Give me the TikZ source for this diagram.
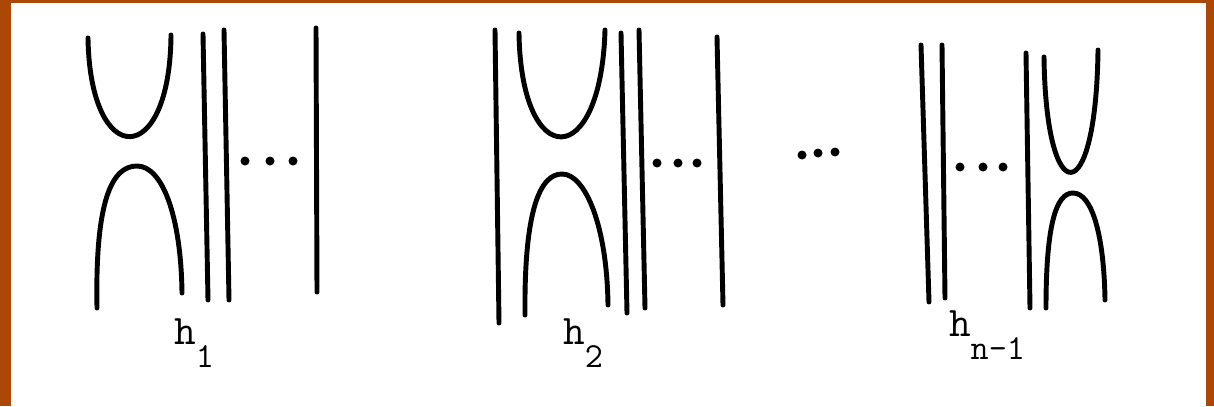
\documentclass[tikz,border=0pt]{standalone}
\begin{document}
\definecolor{frameorange}{RGB}{172,72,6}
\newcommand{\lowsub}[1]{\raisebox{-0.55em}{\fontsize{20}{22}\selectfont #1}}
\begin{tikzpicture}[x=0.02cm, y=-0.02cm,
  strand/.style={line width=2.8pt, line cap=round},
  dot/.style={circle, fill, inner sep=0pt, minimum size=0.18cm},
  label/.style={font=\fontsize{24}{26}\selectfont\ttfamily}]
\useasboundingbox (0,0) rectangle (1214,406);
\fill[frameorange] (0,0) rectangle (1214,406);
\fill[white] (11,3) rectangle (1206,406);

% h_1
\draw[strand] (88,38) .. controls (90,170) and (170,170) .. (171,35);
\draw[strand] (97,308) .. controls (95,200) and (112,166) .. (137,166) .. controls (162,166) and (181,215) .. (182,293);
\draw[strand] (203,34) -- (208,300);
\draw[strand] (224,30) -- (229,300);
\draw[strand] (316,28) -- (317,292);
\node[dot] (d11) at (245,161) {};
\node[dot] (d12) at (270,161) {};
\node[dot] (d13) at (293,161) {};
\node[label] (h1) at (194,343) {h\lowsub{1}};

% h_2
\draw[strand] (495,30) -- (499,323);
\draw[strand] (519,33) .. controls (521,172) and (601,172) .. (605,30);
\draw[strand] (525,315) .. controls (524,210) and (540,174) .. (562,174) .. controls (585,174) and (607,225) .. (608,305);
\draw[strand] (621,33) -- (627,313);
\draw[strand] (639,30) -- (645,308);
\draw[strand] (717,37) -- (723,305);
\node[dot] (d21) at (657,163) {};
\node[dot] (d22) at (678,163) {};
\node[dot] (d23) at (697,163) {};
\node[label] (h2) at (583,343) {h\lowsub{2}};

% middle dots
\node[dot] (m1) at (802,155) {};
\node[dot] (m2) at (818,153) {};
\node[dot] (m3) at (835,152) {};

% h_{n-1}
\draw[strand] (921,45) -- (929,302);
\draw[strand] (942,45) -- (945,298);
\draw[strand] (1026,53) -- (1030,308);
\draw[strand] (1044,57) .. controls (1046,212) and (1096,212) .. (1098,50);
\draw[strand] (1046,308) .. controls (1046,225) and (1056,193) .. (1073,193) .. controls (1092,193) and (1104,235) .. (1105,300);
\node[dot] (d31) at (960,167) {};
\node[dot] (d32) at (983,167) {};
\node[dot] (d33) at (1003,167) {};
\node[label] (hn) at (987,335) {h\lowsub{n-1}};
\end{tikzpicture}
\end{document}
